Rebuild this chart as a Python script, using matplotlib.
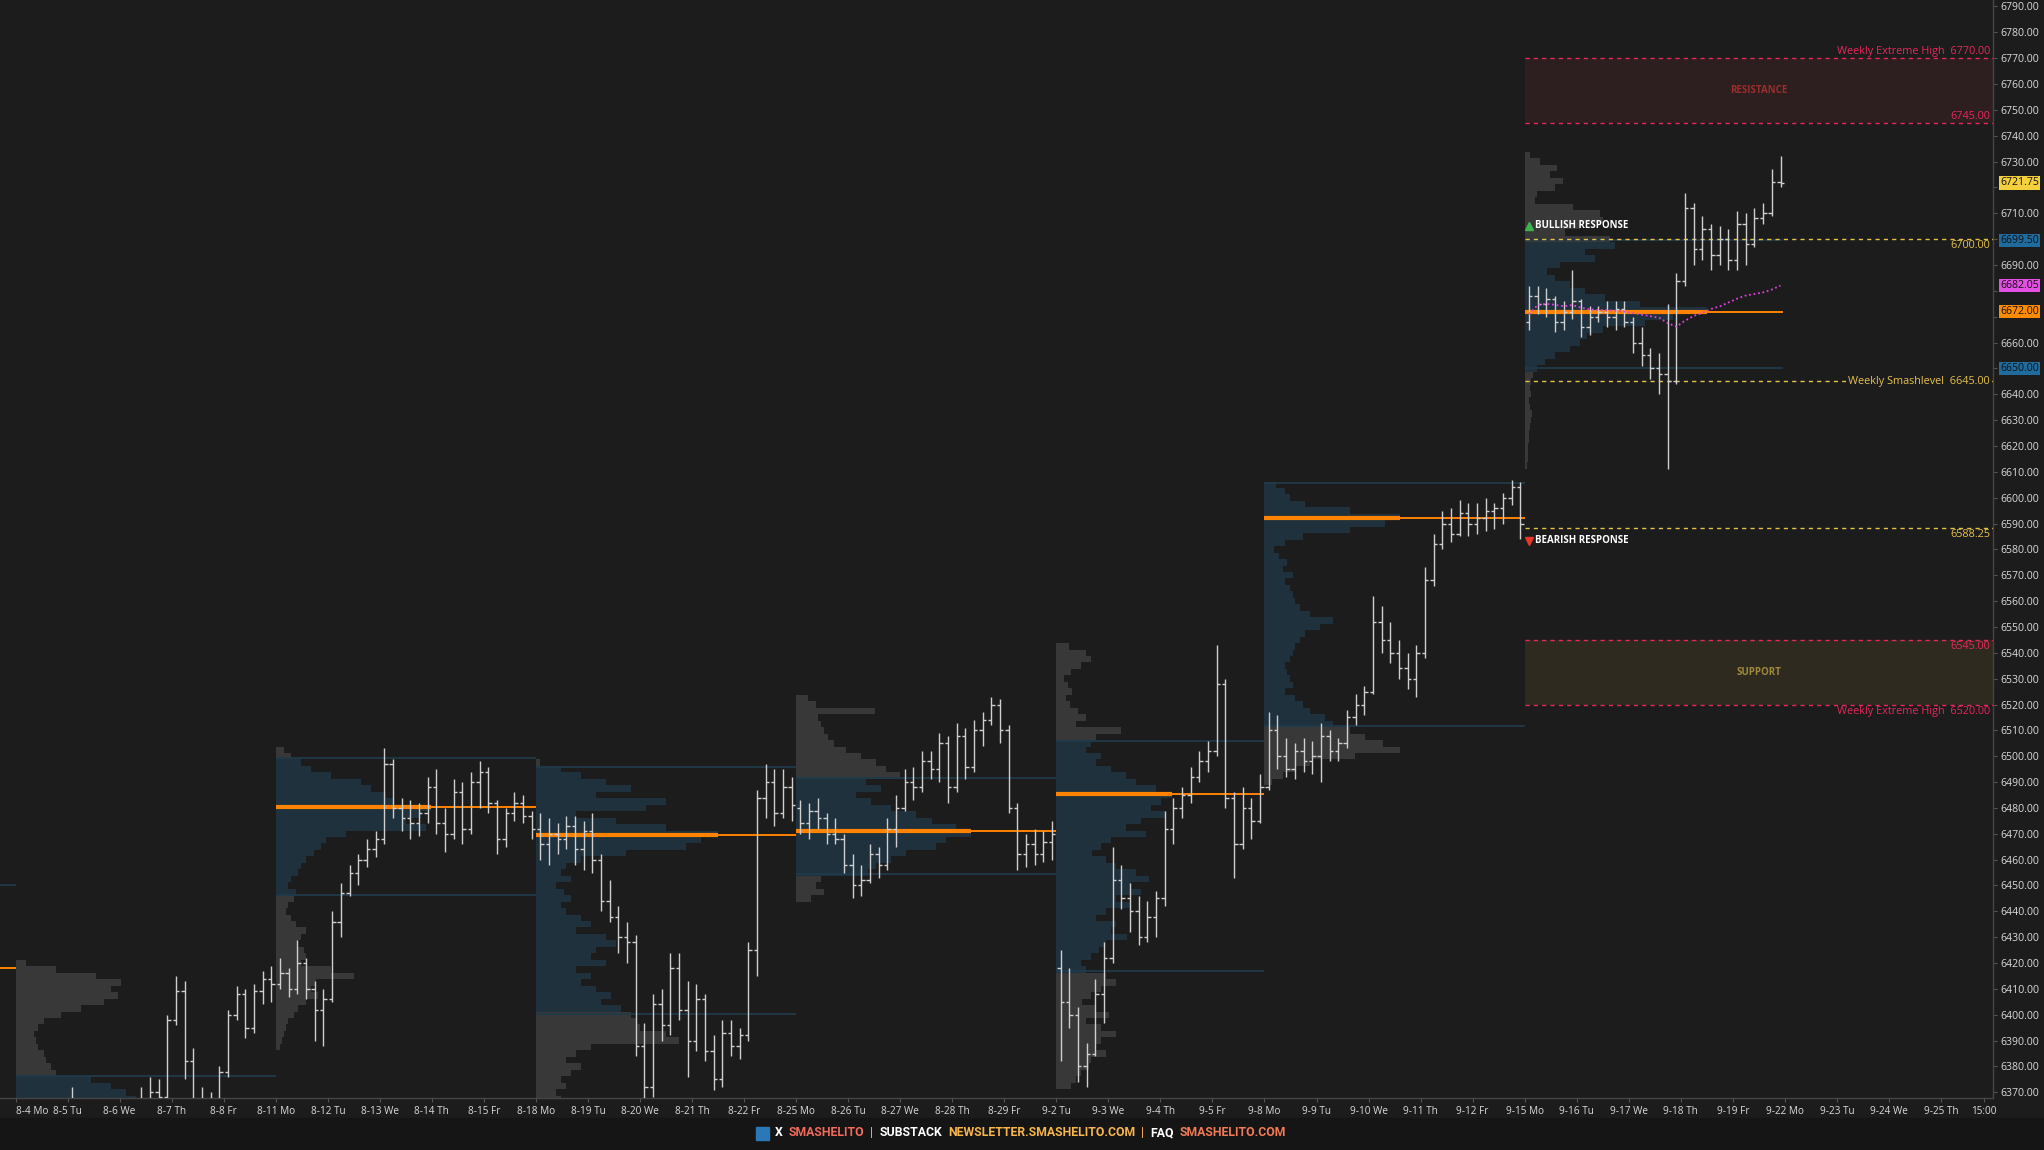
import numpy as np
import matplotlib
matplotlib.use("Agg")
import matplotlib.pyplot as plt
from matplotlib.patches import Rectangle
from matplotlib.transforms import blended_transform_factory

# ----------------------------
# Colours / fonts
# ----------------------------
BG = "#1c1c1c"
FOOTER_BG = "#151515"
BAR_COLOR = "#cfcfcf"
VA_BLUE = "#1e313d"
PROFILE_GREY = "#383838"
VA_LINE = "#203a4a"
POC_ORANGE = "#ff8200"
RED = "#e8285a"
YELLOW = "#e6c24a"
TEXT = "#dadada"
FONT = ["Open Sans", "DejaVu Sans"]
FOOTER_FONT = ["Liberation Sans Narrow", "Roboto", "DejaVu Sans"]

plt.rcParams["font.family"] = FONT

# ----------------------------
# Time axis (one unit = one trading day)
# ----------------------------
day_labels = ["8-4 Mo", "8-5 Tu", "8-6 We", "8-7 Th", "8-8 Fr",
              "8-11 Mo", "8-12 Tu", "8-13 We", "8-14 Th", "8-15 Fr",
              "8-18 Mo", "8-19 Tu", "8-20 We", "8-21 Th", "8-22 Fr",
              "8-25 Mo", "8-26 Tu", "8-27 We", "8-28 Th", "8-29 Fr",
              "9-2 Tu", "9-3 We", "9-4 Th", "9-5 Fr",
              "9-8 Mo", "9-9 Tu", "9-10 We", "9-11 Th", "9-12 Fr",
              "9-15 Mo", "9-16 Tu", "9-17 We", "9-18 Th", "9-19 Fr",
              "9-22 Mo", "9-23 Tu", "9-24 We", "9-25 Th"]
last_label = "15:00"
last_label_day = 37.83
BARS_PER_DAY = 6

# ----------------------------
# Price bars (open, high, low, close), six per session
# ----------------------------
week1_ohlc = [
    (6295, 6310, 6290, 6305), (6305, 6322, 6300, 6318), (6318, 6330, 6312, 6326),
    (6326, 6340, 6322, 6336), (6336, 6348, 6330, 6344), (6344, 6355, 6338, 6350),
    (6350, 6372, 6345, 6362), (6362, 6366, 6340, 6345), (6345, 6352, 6332, 6338),
    (6338, 6346, 6325, 6330), (6330, 6340, 6318, 6322), (6322, 6335, 6315, 6330),
    (6330, 6345, 6322, 6340), (6340, 6355, 6335, 6350), (6350, 6372, 6345, 6366),
    (6366, 6376, 6358, 6370), (6370, 6375, 6360, 6368), (6368, 6400, 6362, 6398),
    (6398, 6415, 6396, 6409), (6409, 6413, 6375, 6382), (6382, 6387, 6362, 6366),
    (6366, 6372, 6355, 6360), (6360, 6370, 6352, 6366), (6366, 6380, 6358, 6378),
    (6378, 6402, 6376, 6400), (6400, 6411, 6398, 6408), (6408, 6410, 6391, 6395),
    (6395, 6412, 6393, 6409), (6409, 6417, 6404, 6414), (6414, 6419, 6405, 6412),
]
week2_ohlc = [
    (6412, 6422, 6410, 6416), (6416, 6418, 6407, 6410), (6410, 6429, 6408, 6420),
    (6420, 6422, 6406, 6410), (6410, 6413, 6390, 6402), (6402, 6410, 6388, 6406),
    (6406, 6440, 6405, 6436), (6436, 6451, 6430, 6447), (6447, 6458, 6446, 6455),
    (6455, 6462, 6450, 6460), (6460, 6468, 6457, 6464), (6464, 6471, 6461, 6468),
    (6468, 6503, 6466, 6497), (6497, 6499, 6476, 6480), (6480, 6484, 6471, 6476),
    (6476, 6483, 6468, 6474), (6474, 6482, 6469, 6478), (6478, 6492, 6474, 6488),
    (6488, 6495, 6470, 6474), (6474, 6480, 6463, 6470), (6470, 6491, 6468, 6486),
    (6486, 6490, 6466, 6472), (6472, 6494, 6470, 6490), (6490, 6498, 6480, 6494),
    (6494, 6496, 6478, 6482), (6482, 6483, 6462, 6468), (6468, 6480, 6465, 6478),
    (6478, 6486, 6475, 6482), (6482, 6485, 6474, 6477), (6477, 6479, 6468, 6472),
]
week3_ohlc = [
    (6472, 6478, 6460, 6466), (6466, 6476, 6458, 6470), (6470, 6474, 6462, 6468),
    (6468, 6477, 6464, 6473), (6473, 6477, 6458, 6464), (6464, 6475, 6456, 6471),
    (6471, 6478, 6455, 6460), (6460, 6462, 6440, 6444), (6444, 6452, 6436, 6438),
    (6438, 6442, 6424, 6430), (6430, 6436, 6420, 6428), (6428, 6431, 6384, 6388),
    (6388, 6397, 6366, 6372), (6372, 6408, 6368, 6404), (6404, 6410, 6390, 6396),
    (6396, 6424, 6392, 6418), (6418, 6424, 6398, 6402), (6402, 6413, 6376, 6390),
    (6390, 6412, 6386, 6406), (6406, 6408, 6382, 6386), (6386, 6392, 6371, 6375),
    (6375, 6398, 6372, 6393), (6393, 6398, 6384, 6388), (6388, 6395, 6383, 6392),
    (6392, 6428, 6390, 6425), (6425, 6487, 6415, 6484), (6484, 6497, 6476, 6490),
    (6490, 6495, 6473, 6478), (6478, 6495, 6476, 6488), (6488, 6492, 6475, 6481),
]
week4_ohlc = [
    (6480, 6483, 6470, 6474), (6474, 6482, 6468, 6479), (6479, 6484, 6472, 6476),
    (6476, 6478, 6466, 6470), (6470, 6476, 6466, 6468), (6468, 6470, 6455, 6458),
    (6458, 6462, 6445, 6450), (6450, 6458, 6446, 6452), (6452, 6466, 6451, 6462),
    (6462, 6465, 6453, 6458), (6458, 6476, 6456, 6472), (6472, 6485, 6465, 6480),
    (6480, 6495, 6479, 6490), (6490, 6496, 6483, 6488), (6488, 6502, 6486, 6498),
    (6498, 6502, 6491, 6495), (6495, 6509, 6490, 6505), (6505, 6508, 6482, 6488),
    (6488, 6513, 6486, 6508), (6508, 6511, 6491, 6496), (6496, 6514, 6494, 6510),
    (6510, 6517, 6504, 6514), (6514, 6523, 6512, 6520), (6520, 6522, 6505, 6510),
    (6510, 6512, 6478, 6480), (6480, 6482, 6456, 6462), (6462, 6470, 6457, 6466),
    (6466, 6472, 6458, 6462), (6462, 6471, 6459, 6467), (6467, 6475, 6460, 6470),
]
week5_ohlc = [
    (6418, 6425, 6382, 6405), (6405, 6418, 6395, 6400), (6400, 6403, 6374, 6380),
    (6380, 6389, 6372, 6385), (6385, 6414, 6384, 6408), (6408, 6428, 6397, 6422),
    (6422, 6465, 6420, 6452), (6452, 6458, 6441, 6445), (6445, 6451, 6432, 6440),
    (6440, 6446, 6427, 6430), (6430, 6444, 6428, 6438), (6438, 6448, 6430, 6445),
    (6445, 6479, 6442, 6472), (6472, 6484, 6466, 6480), (6480, 6488, 6476, 6485),
    (6485, 6496, 6482, 6492), (6492, 6502, 6490, 6498), (6498, 6506, 6494, 6502),
    (6502, 6543, 6500, 6528), (6528, 6530, 6480, 6484), (6484, 6486, 6453, 6466),
    (6466, 6488, 6464, 6480), (6480, 6484, 6468, 6475), (6475, 6493, 6474, 6488),
]
week6_ohlc = [
    (6488, 6517, 6487, 6510), (6510, 6516, 6495, 6500), (6500, 6507, 6492, 6495),
    (6495, 6505, 6491, 6502), (6502, 6507, 6494, 6498), (6498, 6506, 6493, 6500),
    (6500, 6513, 6490, 6508), (6508, 6510, 6498, 6502), (6502, 6507, 6498, 6505),
    (6505, 6518, 6503, 6515), (6515, 6524, 6512, 6520), (6520, 6527, 6516, 6525),
    (6525, 6562, 6524, 6552), (6552, 6558, 6540, 6545), (6545, 6552, 6536, 6540),
    (6540, 6545, 6530, 6534), (6534, 6540, 6526, 6530), (6530, 6543, 6523, 6540),
    (6540, 6573, 6538, 6568), (6568, 6586, 6566, 6582), (6582, 6595, 6580, 6590),
    (6590, 6596, 6583, 6586), (6586, 6599, 6585, 6594), (6594, 6598, 6585, 6590),
    (6590, 6598, 6586, 6592), (6592, 6600, 6587, 6595), (6595, 6598, 6588, 6596),
    (6596, 6602, 6590, 6600), (6600, 6607, 6597, 6604), (6604, 6606, 6584, 6590),
]
week7_ohlc = [
    (6668, 6682, 6665, 6678), (6678, 6682, 6671, 6675), (6675, 6681, 6670, 6677),
    (6677, 6678, 6664, 6668), (6668, 6676, 6665, 6672), (6672, 6688, 6669, 6676),
    (6676, 6677, 6662, 6666), (6666, 6674, 6663, 6670), (6670, 6674, 6668, 6672),
    (6672, 6676, 6666, 6670), (6670, 6676, 6665, 6673), (6673, 6676, 6666, 6668),
    (6668, 6670, 6656, 6660), (6660, 6666, 6651, 6655), (6655, 6658, 6646, 6650),
    (6650, 6656, 6640, 6648), (6648, 6675, 6611, 6645), (6645, 6687, 6644, 6684),
    (6684, 6718, 6682, 6712), (6712, 6714, 6690, 6696), (6696, 6709, 6692, 6704),
    (6704, 6706, 6688, 6694), (6694, 6705, 6690, 6700), (6700, 6704, 6688, 6692),
    (6692, 6711, 6688, 6706), (6706, 6710, 6690, 6698), (6698, 6712, 6697, 6708),
    (6708, 6714, 6706, 6710), (6710, 6727, 6709, 6722), (6722, 6732, 6720, 6721.75),
]
week7_vwap = [6671.0, 6674.5, 6675.0, 6674.6, 6674.0, 6674.5, 6673.5, 6672.8,
              6672.6, 6672.5, 6672.3, 6672.0, 6671.4, 6670.8, 6670.2, 6669.6,
              6667.5, 6666.2, 6668.5, 6670.3, 6671.5, 6673.0, 6674.0, 6675.5,
              6677.0, 6678.2, 6678.8, 6679.4, 6680.5, 6682.05]

# ----------------------------
# Weekly volume profiles (k contracts per 2.5 pt bin, from the top price down)
# ----------------------------
PROFILE_STEP = 2.5
VOL_SCALE = 1 / 52.0   # days of width per k contracts

week1_profile = [10, 40, 80, 105, 95, 102, 88, 65, 45, 28, 22, 18, 20, 22, 28, 30, 35, 40,
                 75, 95, 110, 120, 125, 130, 128, 135, 140, 150, 160, 165, 170, 160,
                 150, 140, 120, 100, 80]
week2_profile = [8, 15, 25, 35, 55, 85, 95, 110, 118, 155, 145, 130, 150, 70, 50, 45, 38,
                 30, 25, 22, 15, 12, 20, 18, 12, 10, 15, 20, 30, 25, 22, 28, 30, 25, 55,
                 78, 40, 35, 42, 30, 22, 18, 12, 10, 8, 6, 4]
week3_profile = [4, 25, 45, 70, 95, 60, 130, 110, 40, 80, 130, 182, 165, 150, 90, 45, 30,
                 25, 35, 20, 28, 35, 25, 30, 45, 55, 40, 70, 80, 60, 55, 70, 40, 55, 45,
                 60, 75, 65, 85, 95, 100, 104, 130, 143, 55, 40, 30, 45, 35, 25, 30, 20, 25]
week4_profile = [12, 20, 79, 22, 25, 28, 32, 38, 50, 65, 80, 90, 104, 70, 85, 60, 75, 95,
                 120, 136, 160, 175, 150, 140, 110, 95, 80, 72, 25, 20, 28, 15]
week5_profile = [13, 30, 35, 25, 15, 8, 12, 16, 10, 14, 22, 30, 20, 65, 40, 35, 30, 45,
                 40, 55, 70, 80, 100, 116, 105, 95, 110, 85, 70, 90, 55, 45, 36, 50, 60,
                 80, 93, 75, 85, 60, 75, 50, 40, 60, 55, 71, 50, 43, 35, 25, 30, 50, 60,
                 45, 35, 26, 40, 53, 30, 45, 60, 45, 40, 50, 35, 33, 25, 20, 15]
week6_profile = [12, 20, 25, 40, 85, 135, 120, 85, 38, 20, 10, 15, 22, 18, 28, 20, 25, 28,
                 30, 35, 45, 68, 55, 40, 35, 30, 28, 25, 20, 22, 25, 28, 20, 30, 38, 45,
                 60, 68, 85, 100, 118, 135, 90, 45, 30, 18, 8]
week7_profile = [5, 15, 32, 25, 38, 30, 12, 10, 48, 75, 78, 55, 40, 85, 90, 60, 70, 35,
                 22, 30, 45, 60, 80, 115, 182, 148, 120, 78, 62, 55, 45, 30, 20, 12, 8, 6,
                 5, 6, 4, 5, 7, 6, 5, 4, 4, 3, 3, 3, 2]

week_first_day = [0, 5, 10, 15, 20, 24, 29]
week_last_day = [5, 10, 15, 20, 24, 29, 33.97]
week_profile_top = [6420.0, 6502.5, 6497.5, 6522.5, 6542.5, 6605.0, 6732.5]
week_poc = [6345.0, 6480.5, 6469.4, 6471.2, 6485.4, 6592.0, 6672.0]
week_vah = [6376.25, 6499.5, 6495.75, 6491.75, 6506.0, 6605.75, 6699.5]
week_val = [6330.0, 6446.25, 6400.25, 6454.25, 6416.75, 6511.5, 6650.0]
prior_poc, prior_vah = 6418.0, 6450.0

# ----------------------------
# Levels for the current week
# ----------------------------
level_prices = [6770.0, 6745.0, 6700.0, 6645.0, 6588.25, 6545.0, 6520.0]
level_labels = ["Weekly Extreme High  6770.00", "6745.00", "6700.00",
                "Weekly Smashlevel  6645.00", "6588.25", "6545.00",
                "Weekly Extreme High  6520.00"]
level_colors = [RED, RED, YELLOW, YELLOW, YELLOW, RED, RED]
level_place = ["above", "above", "below", "inline", "below", "below", "below"]
resistance_zone = (6745.0, 6770.0)
support_zone = (6520.0, 6545.0)

tag_prices = [6721.75, 6699.50, 6682.05, 6672.00, 6650.00]
tag_colors = ["#f3d03c", "#1f6b9e", "#e34fe3", "#ff8a00", "#1f6b9e"]

footer_pieces = [("X", "#ffffff"), ("SMASHELITO", "#f26b5b"), ("|", "#f0a050"),
                 ("SUBSTACK", "#ffffff"), ("NEWSLETTER.SMASHELITO.COM", "#f9b54a"),
                 ("|", "#f0a050"), ("FAQ", "#ffffff"), ("SMASHELITO.COM", "#f47a55")]


def draw_bars(ax, first_day, ohlc):
    o, h, l, c = np.array(ohlc, dtype=float).T
    x = first_day + (np.arange(len(o)) + 0.5) / BARS_PER_DAY
    ax.vlines(x, l, h, color=BAR_COLOR, lw=1.0, zorder=5)
    ax.hlines(o, x - 0.065, x, color=BAR_COLOR, lw=1.0, zorder=5)
    ax.hlines(c, x, x + 0.065, color=BAR_COLOR, lw=1.0, zorder=5)


def draw_profile(ax, i, vols):
    start, end = week_first_day[i], week_last_day[i]
    prices = week_profile_top[i] - PROFILE_STEP * np.arange(len(vols))
    widths = np.array(vols) * VOL_SCALE
    colors = [VA_BLUE if week_val[i] <= p <= week_vah[i] else PROFILE_GREY for p in prices]
    ax.barh(prices, widths, height=PROFILE_STEP, left=start, color=colors,
            linewidth=0, zorder=1)
    ax.hlines([week_vah[i], week_val[i]], start, end, color=VA_LINE, lw=1.3, zorder=2)
    ax.hlines(week_poc[i], start, start + max(widths), color=POC_ORANGE, lw=3.0, zorder=3)
    ax.hlines(week_poc[i], start, end, color=POC_ORANGE, lw=1.4, zorder=3)


def draw_footer(fig):
    renderer = fig.canvas.get_renderer()
    y_pix = 17
    gap = 6
    square = 13
    target = 534 - square - gap * len(footer_pieces)   # text width in the reference
    texts = []
    for s, col in footer_pieces:
        t = fig.text(0, y_pix / 1150, s, color=col, fontsize=12.5, fontweight="bold",
                     family=FOOTER_FONT, fontstretch="condensed",
                     va="center", ha="left")
        texts.append(t)
    raw = sum(t.get_window_extent(renderer).width for t in texts)
    size = 12.5 * min(1.0, target / raw)
    for t in texts:
        t.set_fontsize(size)
    widths = [t.get_window_extent(renderer).width for t in texts]
    total = square + gap + sum(widths) + gap * (len(widths) - 1)
    x = 1021 - total / 2
    fig.patches.append(Rectangle((x / 2044, (y_pix - 6.5) / 1150), square / 2044, 13 / 1150,
                                 transform=fig.transFigure, color="#2a78b8"))
    x += square + gap
    for t, w in zip(texts, widths):
        t.set_x(x / 2044)
        x += w + gap


def ytick_text(v, pos):
    # the coloured price tags sit on top of these ticks
    if any(abs(v - p) < 4 for p in tag_prices):
        return ""
    return f"{v:.2f}"


def main():
    fig = plt.figure(figsize=(20.44, 11.5), dpi=100, facecolor=BG)
    fig.patches.append(Rectangle((0, 0), 1, 32 / 1150, transform=fig.transFigure,
                                 color=FOOTER_BG, zorder=0))
    ax = fig.add_axes([0, 52 / 1150, 1993 / 2044, 1098 / 1150])
    ax.set_facecolor(BG)
    ax.set_xlim(-0.30, 38.0)
    ax.set_ylim(6367.8, 6792.5)

    # prior week levels peeking in at the left edge
    ax.hlines(prior_vah, -5, 0, color=VA_LINE, lw=1.3, zorder=2)
    ax.hlines(prior_poc, -5, 0, color=POC_ORANGE, lw=1.4, zorder=3)

    profiles = [week1_profile, week2_profile, week3_profile, week4_profile,
                week5_profile, week6_profile, week7_profile]
    weeks = [week1_ohlc, week2_ohlc, week3_ohlc, week4_ohlc,
             week5_ohlc, week6_ohlc, week7_ohlc]
    for i, (prof, ohlc) in enumerate(zip(profiles, weeks)):
        draw_profile(ax, i, prof)
        draw_bars(ax, week_first_day[i], ohlc)

    xv = 29 + (np.arange(len(week7_vwap)) + 0.5) / BARS_PER_DAY
    ax.plot(xv, week7_vwap, color="#e040e0", lw=1.3, ls=(0, (1, 1.5)), zorder=6)

    # zones and levels
    x0, x1 = 29.0, 38.0
    ax.fill_between([x0, x1], *resistance_zone, color="#2d1f1f", lw=0, zorder=0.5)
    ax.fill_between([x0, x1], *support_zone, color="#2e2a20", lw=0, zorder=0.5)
    ax.text(33.5, sum(resistance_zone) / 2, "RESISTANCE", color="#9a2e2e",
            fontsize=7, fontweight="bold", ha="center", va="center")
    ax.text(33.5, sum(support_zone) / 2, "SUPPORT", color="#a08a3a",
            fontsize=7, fontweight="bold", ha="center", va="center")

    tr = blended_transform_factory(ax.transAxes, ax.transData)
    for p, lab, col, place in zip(level_prices, level_labels, level_colors, level_place):
        ax.hlines(p, x0, x1, color=col, lw=1.0, linestyles=(0, (3, 3)), zorder=4)
        if place == "inline":
            ax.text(0.9985, p, lab, color=col, fontsize=7.8, ha="right", va="center",
                    transform=tr, zorder=7,
                    bbox=dict(fc=BG, ec="none", pad=1.5))
        elif place == "above":
            ax.text(0.9985, p + 0.5, lab, color=col, fontsize=7.8, ha="right",
                    va="bottom", transform=tr, zorder=7)
        else:
            ax.text(0.9985, p - 0.5, lab, color=col, fontsize=7.8, ha="right",
                    va="top", transform=tr, zorder=7)

    ax.plot([29.08], [6705.2], marker="^", color="#3cb44b", ms=5.5, ls="none", zorder=7)
    ax.text(29.2, 6705.2, "BULLISH RESPONSE", color="white", fontsize=7,
            fontweight="bold", va="center", ha="left", zorder=7)
    ax.plot([29.08], [6583.3], marker="v", color="#e8362c", ms=5.5, ls="none", zorder=7)
    ax.text(29.2, 6583.3, "BEARISH RESPONSE", color="white", fontsize=7,
            fontweight="bold", va="center", ha="left", zorder=7)

    # axes styling
    for side in ["top", "left"]:
        ax.spines[side].set_visible(False)
    for side in ["right", "bottom"]:
        ax.spines[side].set_color("#454545")
        ax.spines[side].set_linewidth(1.0)
    ax.yaxis.tick_right()
    ax.set_yticks(np.arange(6370, 6791, 10))
    ax.yaxis.set_major_formatter(plt.FuncFormatter(ytick_text))
    ax.tick_params(axis="y", colors=TEXT, labelsize=7.6, length=3, pad=2, width=0.8)
    ax.tick_params(axis="y", color="#555555")
    xticks = list(range(len(day_labels))) + [last_label_day]
    ax.set_xticks(xticks)
    ax.set_xticklabels(day_labels + [last_label])
    ax.tick_params(axis="x", colors=TEXT, labelsize=7.2, length=3, pad=3, width=0.8)
    ax.tick_params(axis="x", color="#555555")
    ax.get_xticklabels()[0].set_horizontalalignment("left")

    for p, col in zip(tag_prices, tag_colors):
        ax.text(1.0035, p, f"{p:.2f}", color="#111111", fontsize=7.6, ha="left",
                va="center", transform=tr, clip_on=False, zorder=8,
                bbox=dict(boxstyle="square,pad=0.12", fc=col, ec="none"))

    draw_footer(fig)
    fig.savefig("out.png", dpi=100, facecolor=BG)


if __name__ == "__main__":
    main()
